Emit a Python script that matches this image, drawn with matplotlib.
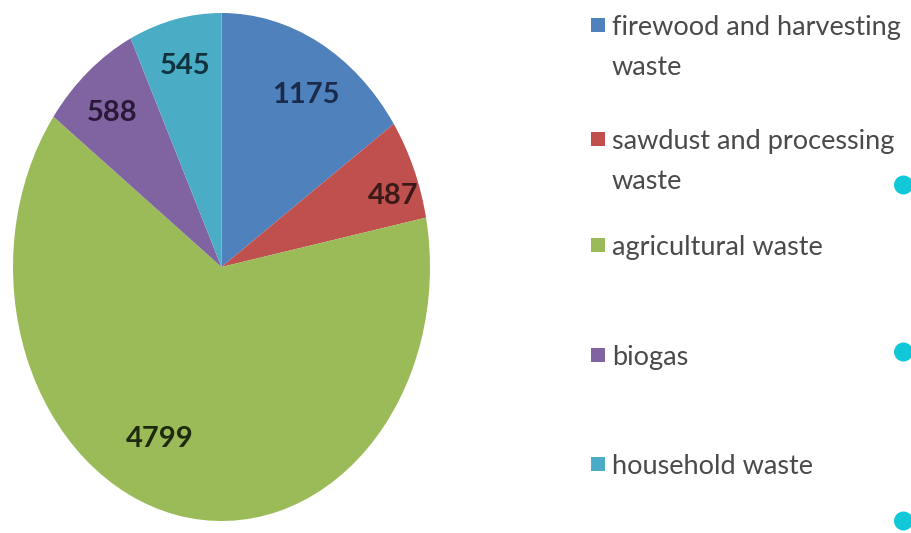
import numpy as np
import matplotlib
matplotlib.use("Agg")
import matplotlib.pyplot as plt
from matplotlib.patches import Ellipse, Rectangle

categories = ["firewood and harvesting\nwaste", "sawdust and processing\nwaste",
              "agricultural waste", "biogas", "household waste"]
values = [1175, 487, 4799, 588, 545]
colors = ["#4F81BD", "#C0504D", "#9BBB59", "#8064A2", "#4BACC6"]
label_colors = ["#1a2a4a", "#3a1a18", "#1e2a0e", "#2a1838", "#10323c"]
# label placement tweaks (radius, angle offset in degrees)
label_r = [0.79, 0.87, 0.74, 0.80, 0.81]
label_dang = [-3, -4, -11, 1, -0.5]

W, H = 911, 533
fig = plt.figure(figsize=(W / 100, H / 100), dpi=100)
fig.patch.set_facecolor("white")

ax = fig.add_axes([13 / W, (H - 521) / H, 417 / W, 508 / H])
wedges, _ = ax.pie(values, colors=colors, startangle=90, counterclock=False,
                   wedgeprops=dict(linewidth=0))
for w, v, c, r, da in zip(wedges, values, label_colors, label_r, label_dang):
    ang = np.deg2rad((w.theta1 + w.theta2) / 2 + da)
    ax.text(r * np.cos(ang), r * np.sin(ang), str(v), color=c, fontsize=21,
            fontweight="bold", family="Lato", ha="center", va="center")
ax.set_aspect("auto")
ax.set_xlim(-1, 1)
ax.set_ylim(-1, 1)
ax.axis("off")

# legend (manual placement)
legend_y = [25, 139, 245, 355, 464]  # pixel y of first text line
line_gap = 40
for cat, col, y in zip(categories, colors, legend_y):
    fig.patches.append(Rectangle((591 / W, 1 - (y + 7) / H), 14 / W, 14 / H,
                                 transform=fig.transFigure, facecolor=col,
                                 edgecolor="none"))
    for k, line in enumerate(cat.split("\n")):
        fig.text(612 / W, 1 - (y + k * line_gap) / H, line, fontsize=19.5,
                 family="Lato", color="#4a4a4a", ha="left", va="center_baseline")

# decorative bullets on the right edge
for y in [185, 352, 521]:
    fig.patches.append(Ellipse((903.5 / W, 1 - y / H), 19 / W, 19 / H,
                               transform=fig.transFigure,
                               facecolor="#10C8D8", edgecolor="none"))

fig.savefig("out.png", dpi=100)
